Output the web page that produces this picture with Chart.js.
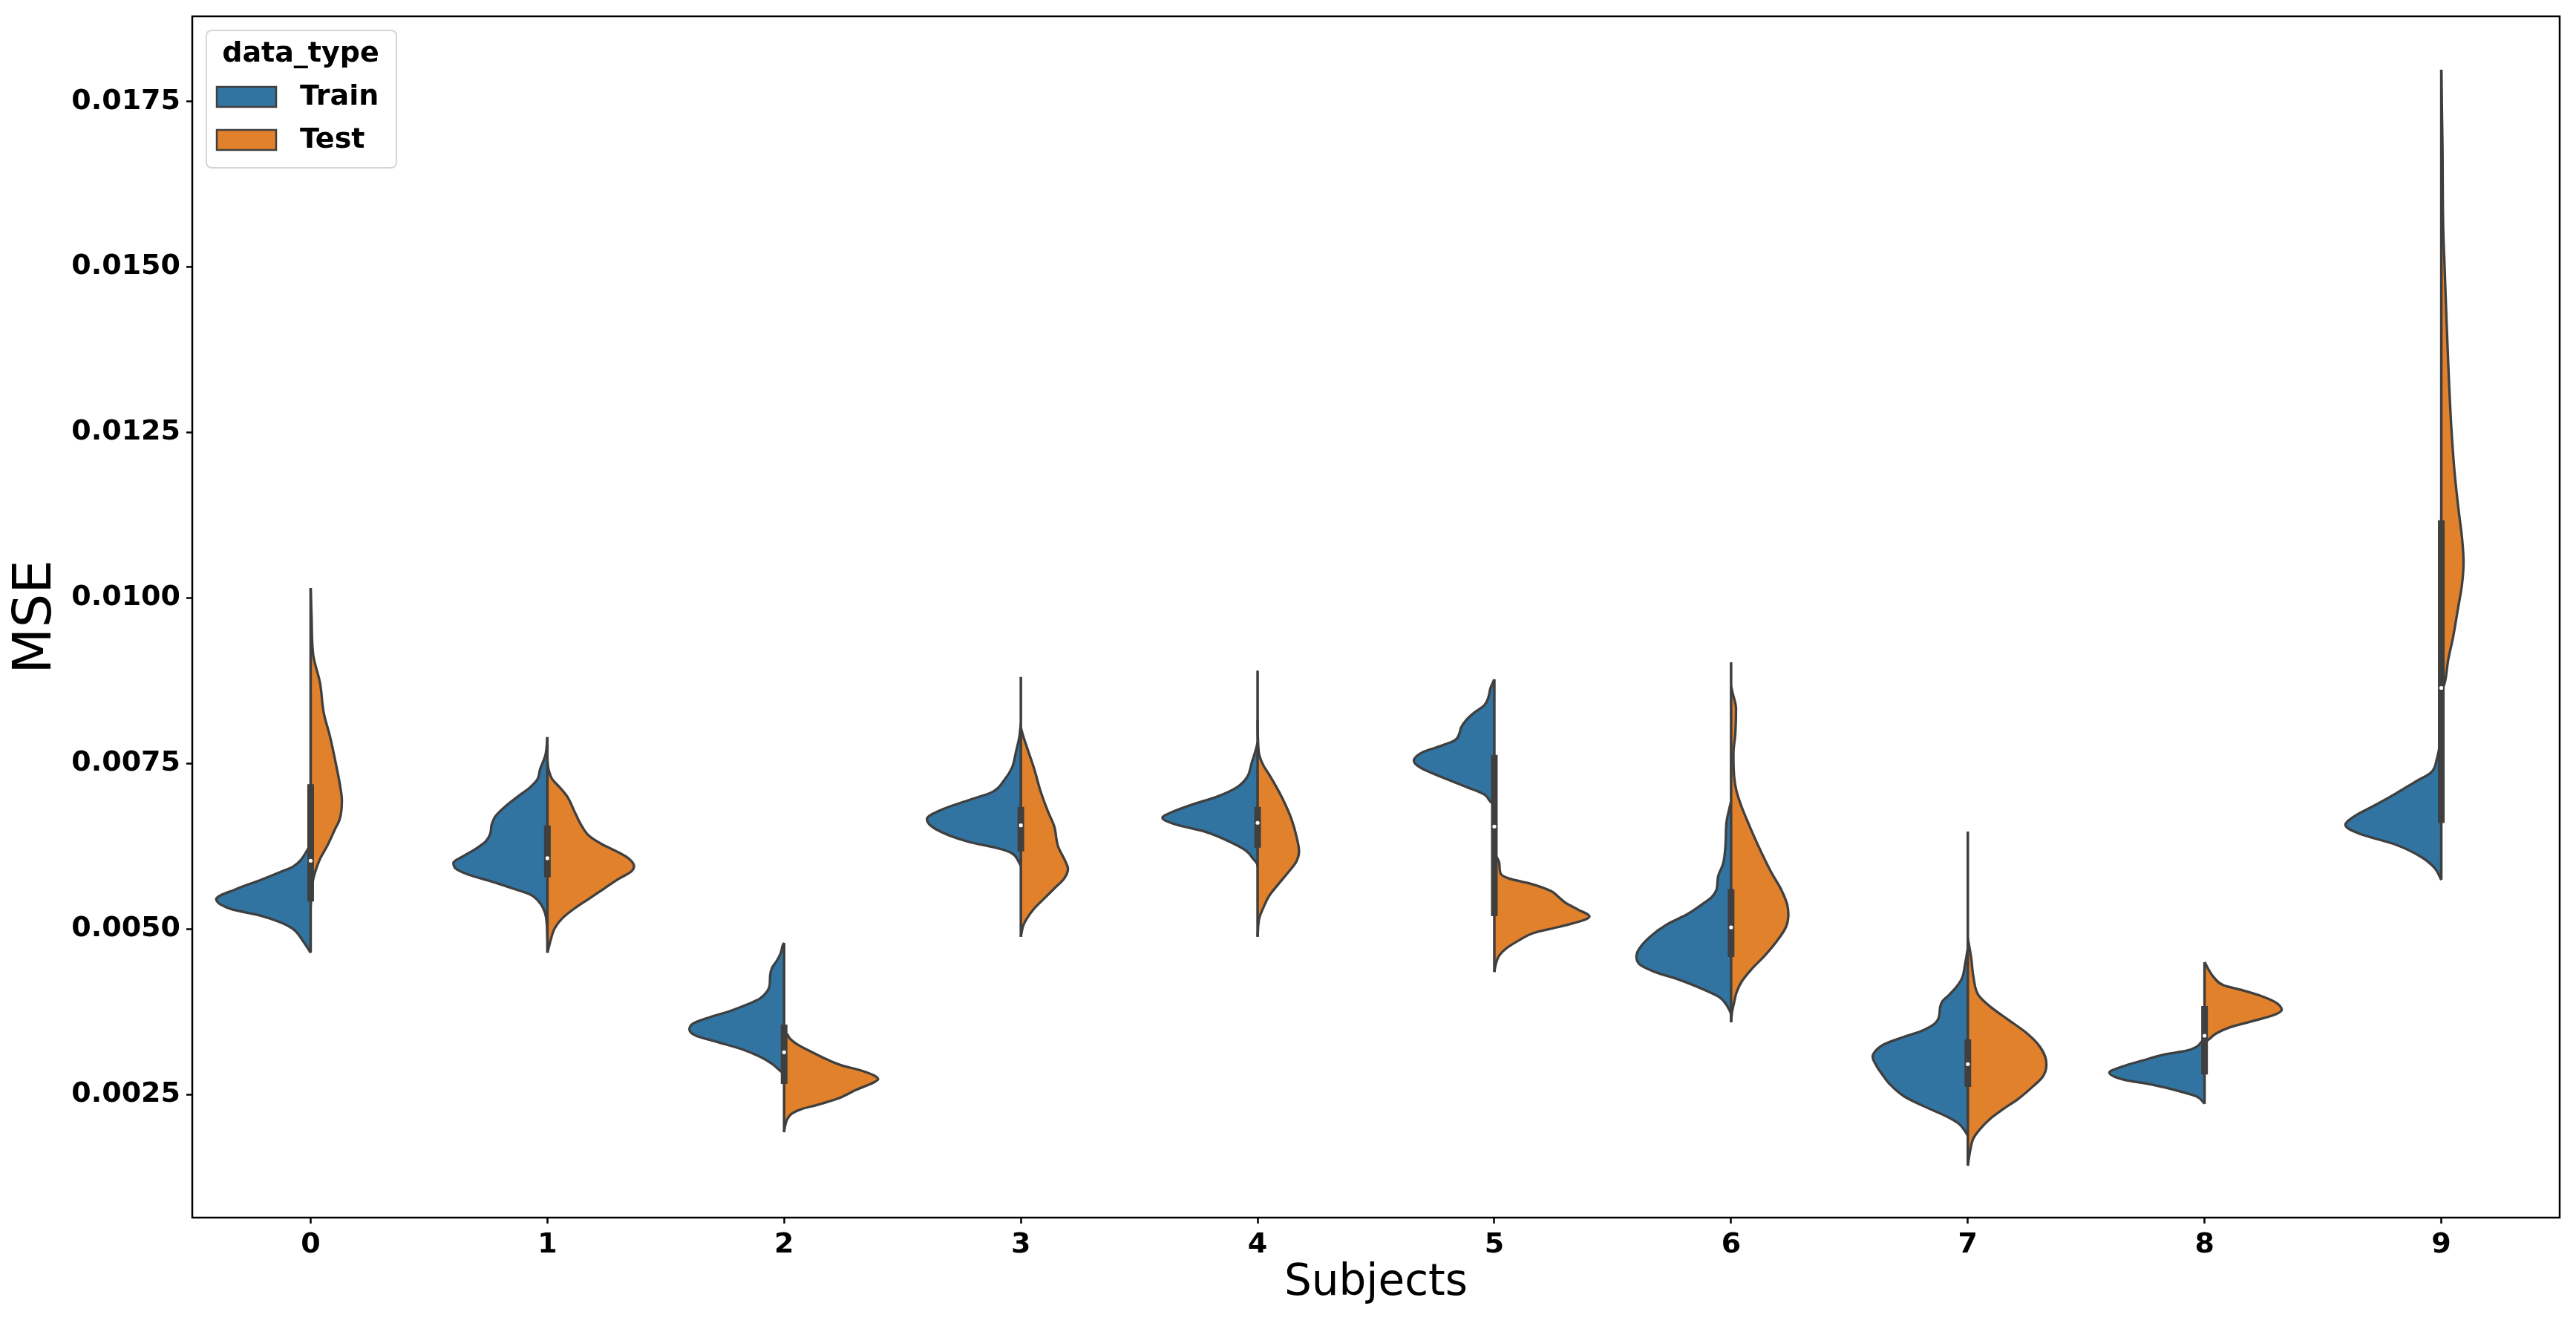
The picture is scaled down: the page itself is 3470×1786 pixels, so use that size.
<!DOCTYPE html>
<html><head><meta charset="utf-8">
<script src="https://cdn.jsdelivr.net/npm/chart.js@4.4.1/dist/chart.umd.min.js"></script>
<style>html,body{margin:0;padding:0;background:#fff;}#wrap{width:3470px;height:1786px;}</style>
</head><body><div id="wrap"><canvas id="c" width="3470" height="1786"></canvas></div>
<script>
// ---- data ----
const categories = ['0','1','2','3','4','5','6','7','8','9'];
const seriesNames = ['Train','Test'];
const seriesColors = ['#3274a1','#e1812c'];
const yTicks = [0.0025,0.0050,0.0075,0.0100,0.0125,0.0150,0.0175];
const yRange = [0.000639, 0.018786];

// violin half profiles: [MSE value, half width in category units], top to bottom
const trainShapes = [
 [[0.00630,0],[0.00620,0.0125],[0.00594,0.075],[0.00586,0.128],[0.00574,0.211],[0.00560,0.316],[0.00545,0.399],[0.00530,0.336],[0.00520,0.211],[0.00510,0.128],[0.00500,0.075],[0.00482,0.033],[0.00464,0]],
 [[0.00790,0],[0.00763,0.008],[0.00741,0.031],[0.00726,0.042],[0.00714,0.073],[0.00700,0.125],[0.00685,0.178],[0.00670,0.220],[0.00658,0.235],[0.00643,0.242],[0.00632,0.261],[0.00621,0.303],[0.00610,0.355],[0.00600,0.397],[0.00591,0.387],[0.00582,0.334],[0.00571,0.230],[0.00561,0.146],[0.00552,0.073],[0.00539,0.031],[0.00524,0.010],[0.00505,0.002],[0.00486,0]],
 [[0.00479,0],[0.00475,0.006],[0.00464,0.014],[0.00453,0.029],[0.00442,0.050],[0.00430,0.059],[0.00415,0.061],[0.00406,0.071],[0.00395,0.102],[0.00386,0.155],[0.00376,0.228],[0.00367,0.311],[0.00357,0.385],[0.00348,0.400],[0.00339,0.374],[0.00329,0.280],[0.00318,0.176],[0.00307,0.102],[0.00296,0.050],[0.00288,0.024],[0.00281,0]],
 [[0.00810,0],[0.00789,0.007],[0.00767,0.021],[0.00744,0.037],[0.00726,0.068],[0.00707,0.120],[0.00694,0.225],[0.00681,0.329],[0.00666,0.397],[0.00651,0.361],[0.00632,0.225],[0.00621,0.089],[0.00614,0.037],[0.00602,0.010],[0.00595,0]],
 [[0.00782,0],[0.00774,0.005],[0.00752,0.024],[0.00729,0.045],[0.00714,0.087],[0.00700,0.170],[0.00688,0.275],[0.00677,0.358],[0.00668,0.402],[0.00658,0.348],[0.00647,0.223],[0.00628,0.097],[0.00617,0.045],[0.00606,0.019],[0.00599,0.003],[0.00595,0]],
 [[0.00877,0],[0.00864,0.016],[0.00849,0.026],[0.00838,0.042],[0.00827,0.084],[0.00815,0.120],[0.00804,0.141],[0.00797,0.146],[0.00785,0.167],[0.00776,0.230],[0.00767,0.303],[0.00754,0.340],[0.00744,0.314],[0.00729,0.220],[0.00714,0.115],[0.00703,0.042],[0.00692,0.016],[0.00688,0]],
 [[0.00693,0],[0.00681,0.008],[0.00662,0.019],[0.00624,0.024],[0.00598,0.034],[0.00579,0.055],[0.00560,0.061],[0.00548,0.082],[0.00537,0.123],[0.00522,0.186],[0.00507,0.270],[0.00488,0.343],[0.00469,0.390],[0.00458,0.400],[0.00446,0.385],[0.00435,0.322],[0.00423,0.217],[0.00408,0.113],[0.00397,0.050],[0.00385,0.019],[0.00374,0.003],[0.00370,0]],
 [[0.00471,0],[0.00445,0.0125],[0.00427,0.023],[0.00412,0.049],[0.00400,0.080],[0.00391,0.107],[0.00382,0.117],[0.00367,0.122],[0.00356,0.143],[0.00346,0.195],[0.00337,0.269],[0.00326,0.352],[0.00314,0.394],[0.00307,0.402],[0.00292,0.384],[0.00281,0.363],[0.00266,0.331],[0.00247,0.269],[0.00232,0.185],[0.00217,0.091],[0.00206,0.039],[0.00195,0.0125],[0.00187,0]],
 [[0.00335,0],[0.00329,0.014],[0.00322,0.034],[0.00316,0.076],[0.00311,0.160],[0.00301,0.264],[0.00292,0.348],[0.00283,0.402],[0.00273,0.348],[0.00264,0.212],[0.00255,0.108],[0.00247,0.034],[0.00236,0]],
 [[0.00793,0],[0.00758,0.018],[0.00736,0.044],[0.00723,0.107],[0.00705,0.190],[0.00688,0.274],[0.00670,0.368],[0.00657,0.405],[0.00644,0.347],[0.00627,0.190],[0.00609,0.086],[0.00592,0.028],[0.00574,0]]
];
const testShapes = [
 [[0.01015,0],[0.00971,0.004],[0.00915,0.0105],[0.00871,0.040],[0.00827,0.055],[0.00791,0.0815],[0.00747,0.108],[0.00715,0.125],[0.00694,0.132],[0.00666,0.123],[0.00650,0.102],[0.00626,0.071],[0.00606,0.040],[0.00586,0.019],[0.00570,0.008],[0.00534,0]],
 [[0.00755,0],[0.00741,0.005],[0.00726,0.021],[0.00714,0.052],[0.00700,0.084],[0.00677,0.115],[0.00655,0.146],[0.00640,0.178],[0.00628,0.230],[0.00617,0.293],[0.00606,0.345],[0.00595,0.366],[0.00587,0.355],[0.00576,0.303],[0.00561,0.240],[0.00546,0.178],[0.00531,0.115],[0.00516,0.063],[0.00501,0.031],[0.00486,0.016],[0.00475,0.008],[0.00464,0]],
 [[0.00344,0],[0.00341,0.0125],[0.00335,0.023],[0.00326,0.054],[0.00314,0.117],[0.00303,0.180],[0.00294,0.242],[0.00286,0.326],[0.00279,0.378],[0.00273,0.397],[0.00268,0.378],[0.00257,0.305],[0.00243,0.222],[0.00234,0.138],[0.00228,0.075],[0.00221,0.033],[0.00212,0.0125],[0.00202,0.004],[0.00193,0]],
 [[0.00804,0],[0.00789,0.012],[0.00774,0.026],[0.00741,0.057],[0.00707,0.084],[0.00677,0.115],[0.00655,0.141],[0.00625,0.157],[0.00602,0.188],[0.00591,0.199],[0.00576,0.183],[0.00561,0.141],[0.00546,0.099],[0.00531,0.057],[0.00516,0.026],[0.00505,0.010],[0.00488,0]],
 [[0.00815,0],[0.00767,0.005],[0.00748,0.023],[0.00733,0.049],[0.00714,0.080],[0.00692,0.112],[0.00666,0.143],[0.00640,0.164],[0.00617,0.175],[0.00602,0.164],[0.00587,0.133],[0.00569,0.091],[0.00550,0.049],[0.00531,0.023],[0.00516,0.007],[0.00488,0]],
 [[0.00615,0],[0.00599,0.021],[0.00584,0.026],[0.00576,0.063],[0.00569,0.146],[0.00557,0.240],[0.00548,0.272],[0.00539,0.303],[0.00529,0.355],[0.00519,0.402],[0.00513,0.376],[0.00503,0.272],[0.00494,0.167],[0.00483,0.105],[0.00471,0.052],[0.00460,0.021],[0.00445,0.005],[0.00435,0]],
 [[0.00867,0],[0.00856,0.007],[0.00833,0.021],[0.00795,0.018],[0.00765,0.010],[0.00730,0.013],[0.00708,0.023],[0.00685,0.044],[0.00658,0.075],[0.00624,0.117],[0.00586,0.169],[0.00560,0.211],[0.00537,0.237],[0.00522,0.242],[0.00503,0.232],[0.00480,0.190],[0.00458,0.138],[0.00439,0.086],[0.00420,0.044],[0.00404,0.023],[0.00389,0.013],[0.00374,0.004],[0.00359,0]],
 [[0.00486,0],[0.00457,0.014],[0.00427,0.024],[0.00400,0.045],[0.00382,0.097],[0.00363,0.170],[0.00344,0.244],[0.00326,0.296],[0.00307,0.327],[0.00294,0.332],[0.00277,0.317],[0.00262,0.275],[0.00243,0.212],[0.00228,0.150],[0.00214,0.097],[0.00199,0.055],[0.00184,0.024],[0.00165,0.010],[0.00142,0]],
 [[0.00450,0],[0.00438,0.018],[0.00427,0.039],[0.00415,0.080],[0.00408,0.154],[0.00399,0.237],[0.00389,0.300],[0.00378,0.326],[0.00371,0.300],[0.00361,0.206],[0.00352,0.112],[0.00342,0.049],[0.00333,0.018],[0.00328,0]],
 [[0.01798,0],[0.01683,0.005],[0.01560,0.008],[0.01500,0.014],[0.01420,0.022],[0.01340,0.031],[0.01260,0.042],[0.01190,0.056],[0.01133,0.073],[0.01089,0.088],[0.01054,0.094],[0.01019,0.087],[0.00985,0.071],[0.00941,0.050],[0.00906,0.029],[0.00871,0.014],[0.00858,0]]
];
// inner box (both halves combined)
const boxQ1 = [0.005414,0.005780,0.002659,0.006172,0.006228,0.005193,0.004575,0.002613,0.002800,0.006599];
const boxQ3 = [0.007185,0.006565,0.003556,0.006845,0.006845,0.007630,0.005598,0.003331,0.003836,0.011172];
const medians = [0.006031,0.006068,0.003137,0.006565,0.006603,0.006547,0.005023,0.002957,0.003387,0.008641];
const whiskerLow = [0.00464,0.00464,0.001929,0.004882,0.004882,0.004348,0.003589,0.001424,0.002359,0.005744];
const whiskerHigh = [0.01015,0.007892,0.004789,0.008808,0.008902,0.008771,0.009029,0.006471,0.004497,0.017979];

// ---- build chart ----
const EDGE = '#3f3f3f';
const datasets = [];
categories.forEach((c, i) => {
  [trainShapes[i], testShapes[i]].forEach((shape, h) => {
    const sign = h === 0 ? -1 : 1;
    datasets.push({
      label: seriesNames[h] + ' ' + c,
      data: shape.map(p => ({x: i + sign * p[1], y: p[0]})),
      backgroundColor: seriesColors[h],
      borderColor: EDGE,
      borderWidth: 3.3,
      fill: {value: i},
      pointRadius: 0,
      cubicInterpolationMode: 'monotone',
      order: 3
    });
  });
  datasets.push({
    label: 'whisker ' + c,
    data: [{x: i, y: whiskerHigh[i]}, {x: i, y: whiskerLow[i]}],
    borderColor: EDGE, borderWidth: 3.5, pointRadius: 0, fill: false, order: 2
  });
  datasets.push({
    label: 'box ' + c,
    data: [{x: i, y: boxQ3[i]}, {x: i, y: boxQ1[i]}],
    borderColor: EDGE, borderWidth: 9, borderCapStyle: 'butt', pointRadius: 0, fill: false, order: 1
  });
});
datasets.push({
  label: 'median',
  data: categories.map((c, i) => ({x: i, y: medians[i]})),
  showLine: false, pointRadius: 2.6, pointBackgroundColor: '#ffffff', pointBorderWidth: 0, fill: false, order: 0
});

const framePlugin = {
  id: 'frame',
  afterDatasetsDraw(chart) {
    const {ctx, chartArea: a} = chart;
    ctx.save();
    ctx.strokeStyle = '#000'; ctx.lineWidth = 2.5;
    ctx.strokeRect(a.left, a.top, a.right - a.left, a.bottom - a.top);
    ctx.restore();
  }
};
const legendPlugin = {
  id: 'boxLegend',
  afterDraw(chart) {
    const {ctx, chartArea: a} = chart;
    const x0 = a.left + 19, y0 = a.top + 19, w = 256, h = 185;
    ctx.save();
    ctx.beginPath();
    ctx.roundRect(x0, y0, w, h, 7);
    ctx.fillStyle = 'rgba(255,255,255,0.85)'; ctx.fill();
    ctx.strokeStyle = '#d5d5d5'; ctx.lineWidth = 2; ctx.stroke();
    ctx.fillStyle = '#000';
    ctx.font = 'bold 38px "DejaVu Sans"';
    ctx.textAlign = 'center'; ctx.textBaseline = 'middle';
    ctx.fillText('data_type', a.left + 146, a.top + 51);
    seriesNames.forEach((name, k) => {
      const ry = a.top + 95 + k * 58;
      ctx.fillStyle = seriesColors[k];
      ctx.fillRect(a.left + 33, ry, 80, 27);
      ctx.strokeStyle = EDGE; ctx.lineWidth = 2.5;
      ctx.strokeRect(a.left + 33, ry, 80, 27);
      ctx.fillStyle = '#000';
      ctx.textAlign = 'left';
      ctx.fillText(name, a.left + 145, ry + 14);
    });
    ctx.restore();
  }
};

Chart.defaults.font.family = '"DejaVu Sans", sans-serif';
Chart.defaults.color = '#000';
new Chart(document.getElementById('c'), {
  type: 'line',
  data: {datasets},
  plugins: [framePlugin, legendPlugin],
  options: {
    responsive: false,
    animation: false,
    indexAxis: 'y',
    layout: {padding: {left: 0, top: 22, right: 22, bottom: 0}},
    plugins: {legend: {display: false}, tooltip: {enabled: false}},
    scales: {
      x: {
        type: 'linear', position: 'bottom', min: -0.5, max: 9.5,
        afterBuildTicks: ax => { ax.ticks = categories.map((c, i) => ({value: i})); },
        afterFit: ax => { ax.height = 146; ax.paddingLeft = 0; ax.paddingRight = 0; },
        ticks: {callback: v => categories[v], font: {size: 38, weight: 'bold'}, color: '#000', padding: 6, maxRotation: 0, autoSkip: false},
        grid: {drawOnChartArea: false, drawTicks: true, tickLength: 8, tickWidth: 2.5, tickColor: '#000'},
        border: {display: false},
        title: {display: true, text: 'Subjects', font: {size: 58, weight: 'normal'}, color: '#000', padding: {top: 0, bottom: 22}}
      },
      y: {
        type: 'linear', position: 'left', min: yRange[0], max: yRange[1],
        afterBuildTicks: ax => { ax.ticks = yTicks.map(v => ({value: v})); },
        afterFit: ax => { ax.width = 259; ax.paddingTop = 0; ax.paddingBottom = 0; },
        ticks: {callback: v => v.toFixed(4), font: {size: 38, weight: 'bold'}, color: '#000', padding: 8, autoSkip: false},
        grid: {drawOnChartArea: false, drawTicks: true, tickLength: 8, tickWidth: 2.5, tickColor: '#000'},
        border: {display: false},
        title: {display: true, text: 'MSE', font: {size: 72, weight: 'normal'}, color: '#000', padding: {top: 6, bottom: 0}}
      }
    }
  }
});
</script></body></html>
